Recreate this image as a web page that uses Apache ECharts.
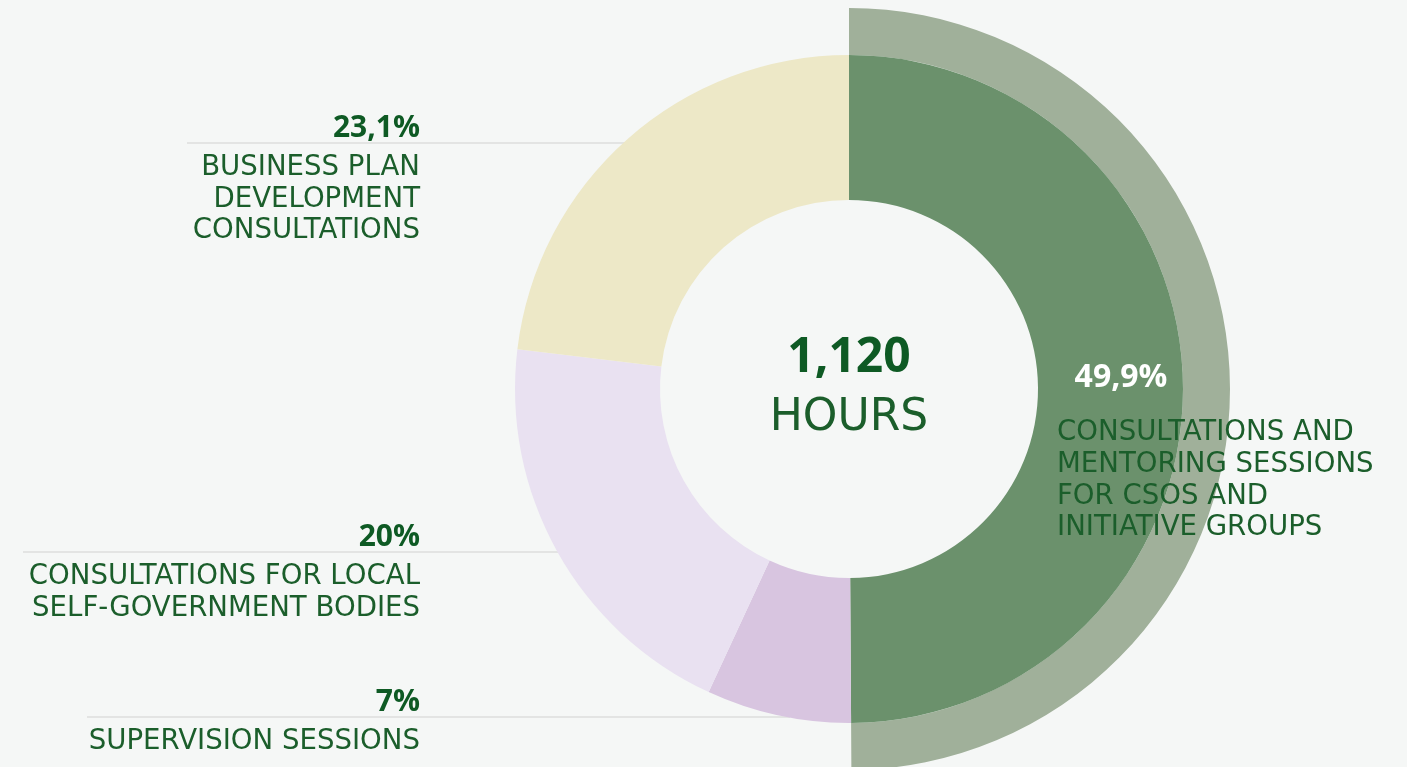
<!DOCTYPE html>
<html><head><meta charset="utf-8">
<script src="https://cdn.jsdelivr.net/npm/echarts@6/dist/echarts.min.js"></script>
<style>html,body{margin:0;padding:0;background:#f5f7f6;}#c{width:1407px;height:767px;}</style>
</head><body><div id="c"></div>
<script>
const categories = [
  'CONSULTATIONS AND\nMENTORING SESSIONS\nFOR CSOS AND\nINITIATIVE GROUPS',
  'SUPERVISION SESSIONS',
  'CONSULTATIONS FOR LOCAL\nSELF-GOVERNMENT BODIES',
  'BUSINESS PLAN\nDEVELOPMENT\nCONSULTATIONS'
];
const values = [49.9, 7, 20, 23.1];
const sliceColors = ['#6b916c', '#d8c5e0', '#e9e1f1', '#ede8c7'];
const totalHours = '1,120';
const centerUnit = 'HOURS';

const fmt = v => String(v).replace('.', ',') + '%';
const labelColor = '#1b5e2b';
const boldColor = '#0e5a24';
const BOLD = '"Open Sans", sans-serif';
const REG = '"DejaVu Sans", sans-serif';

const chart = echarts.init(document.getElementById('c'));
const CX = 849, CY = 389, R_IN = 189, R_OUT = 334, R_RING = 381;

function leftLabel(idx, lineY, lineX0) {
  const lines = categories[idx].split('\n');
  const dy = lineY - CY;
  const x2 = Math.abs(dy) < R_OUT ? CX - Math.sqrt(R_OUT*R_OUT - dy*dy) + 4 : CX;
  const els = [];
  els.push({type:'line', z:0, shape:{x1:lineX0, y1:lineY, x2:x2, y2:lineY}, style:{stroke:'#dcdedd', lineWidth:1.5}});
  els.push({type:'text', z:100, style:{x:420, y:lineY-15, text:fmt(values[idx]), fill:boldColor, font:'bold 30px '+BOLD, align:'right', verticalAlign:'middle'}});
  lines.forEach((t,i)=>{
    els.push({type:'text', z:100, style:{x:420, y:lineY+25+i*31.5, text:t, fill:labelColor, font:'27.6px '+REG, align:'right', verticalAlign:'middle'}});
  });
  return els;
}

const graphics = [].concat(
  leftLabel(3, 143, 187),
  leftLabel(2, 552, 23),
  leftLabel(1, 717, 87),
  [
    {type:'text', z:100, style:{x:CX, y:358, text:totalHours, fill:boldColor, font:'bold 48px '+BOLD, align:'center', verticalAlign:'middle'}},
    {type:'text', z:100, style:{x:CX, y:419, text:centerUnit, fill:labelColor, font:'44px '+REG, align:'center', verticalAlign:'middle'}},
    {type:'text', z:100, style:{x:1121, y:378, text:fmt(values[0]), fill:'#ffffff', font:'bold 32px '+BOLD, align:'center', verticalAlign:'middle'}}
  ],
  categories[0].split('\n').map((t,i)=>({type:'text', z:100, style:{x:1057, y:433+i*31.7, text:t, fill:labelColor, font:'27.6px '+REG, align:'left', verticalAlign:'middle'}}))
);

chart.setOption({
  backgroundColor:'#f5f7f6',
  animation:false,
  graphic: graphics,
  series:[
    {
      type:'pie', center:[CX, CY], radius:[R_OUT, R_RING], startAngle:90, clockwise:true,
      silent:true, label:{show:false}, labelLine:{show:false}, z:1,
      data: values.map((v,i)=>({value:v, itemStyle:{color: i===0 ? '#a0b09a' : 'rgba(0,0,0,0)'}}))
    },
    {
      type:'pie', center:[CX, CY], radius:[R_IN, R_OUT], startAngle:90, clockwise:true,
      silent:true, label:{show:false}, labelLine:{show:false}, z:2,
      data: values.map((v,i)=>({value:v, name:categories[i], itemStyle:{color: sliceColors[i]}}))
    }
  ]
});
</script></body></html>
